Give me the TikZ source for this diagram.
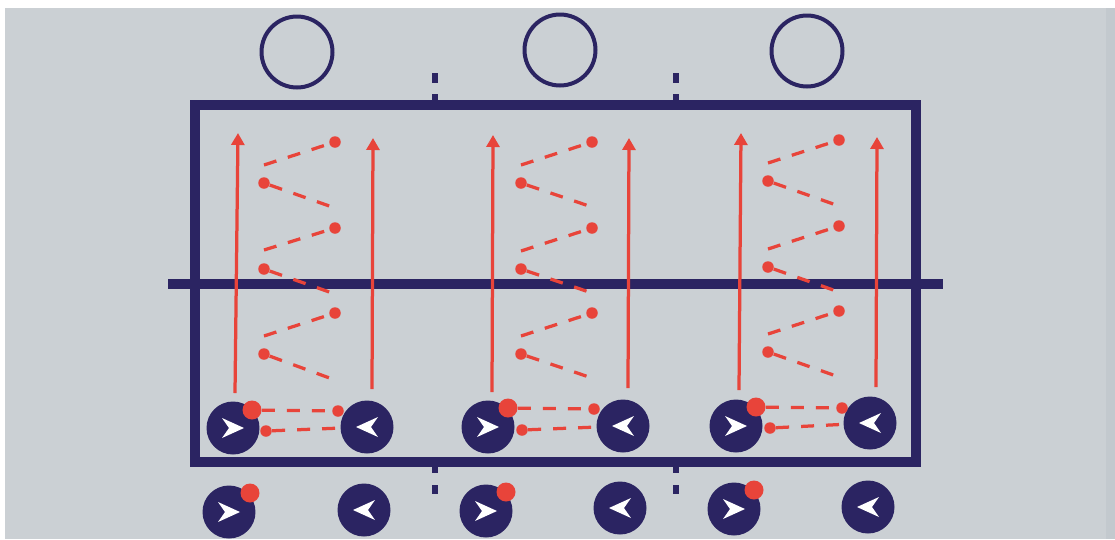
\documentclass[tikz,border=0pt]{standalone}
\usetikzlibrary{arrows.meta}
\definecolor{bg}{HTML}{CBD0D4}
\definecolor{bgr}{HTML}{C3C9CE}
\definecolor{navy}{HTML}{2B2462}
\definecolor{rd}{HTML}{E8443A}
\tikzset{
  court/.style={draw=navy, line width=0.2cm},
  tick/.style={draw=navy, line width=0.12cm},
  ring/.style={circle, draw=navy, line width=0.08cm, minimum size=1.42cm, inner sep=0pt},
  player/.style={circle, fill=navy, minimum size=1.06cm, inner sep=0pt},
  ball/.style={circle, fill=rd, minimum size=0.38cm, inner sep=0pt},
  rdot/.style={circle, fill=rd, minimum size=0.23cm, inner sep=0pt},
  run/.style={draw=rd, line width=0.065cm, -{Triangle[width=0.26cm,length=0.24cm]}},
  pass/.style={draw=rd, line width=0.065cm, dash pattern=on 0.26cm off 0.24cm},
}
\newcommand{\playerR}[2]{\node[player] (#1) at (#2) {};
  \fill[white] (#1.center) ++(11,0) -- ++(-22,-10) -- ++(7,10) -- ++(-7,10) -- cycle;}
\newcommand{\playerL}[2]{\node[player] (#1) at (#2) {};
  \fill[white] (#1.center) ++(-11,0) -- ++(22,-10) -- ++(-7,10) -- ++(7,10) -- cycle;}
\begin{document}
\begin{tikzpicture}[x=0.02cm,y=-0.02cm]
\fill[white] (0,0) rectangle (1115,539);
\fill[bg] (5,8) rectangle (1106,539);
\fill[bgr] (1106,8) rectangle (1115,539);
\useasboundingbox (0,0) rectangle (1115,539);

% top rings
\node[ring] (c1) at (297,52) {};
\node[ring] (c2) at (560,50) {};
\node[ring] (c3) at (807,51) {};

% court
\draw[court] (195,105) rectangle (916,462);
\draw[court] (168,284) -- (943,284);
\foreach \x in {435,676}{
  \draw[tick] (\x,94) -- (\x,105);
  \draw[tick] (\x,73) -- (\x,83);
  \draw[tick] (\x,462) -- (\x,473);
  \draw[tick] (\x,485) -- (\x,494);
}

% ---------- group 1 ----------
\node[rdot] (g1r1) at (335,142) {};
\node[rdot] (g1l1) at (264,183) {};
\node[rdot] (g1r2) at (335,228) {};
\node[rdot] (g1l2) at (264,269) {};
\node[rdot] (g1r3) at (335,313) {};
\node[rdot] (g1l3) at (264,354) {};
\coordinate (g1a1) at (264,165);
\coordinate (g1b1) at (335,208);
\coordinate (g1a2) at (264,250);
\coordinate (g1b2) at (335,294);
\coordinate (g1a3) at (264,336);
\coordinate (g1b3) at (335,380);
\draw[pass] (g1a1) -- (g1r1);
\draw[pass] (g1l1) -- (g1b1);
\draw[pass] (g1a2) -- (g1r2);
\draw[pass] (g1l2) -- (g1b2);
\draw[pass] (g1a3) -- (g1r3);
\draw[pass] (g1l3) -- (g1b3);
\coordinate (g1s1) at (235,393);
\coordinate (g1t1) at (238,133);
\coordinate (g1s2) at (372,389);
\coordinate (g1t2) at (373,138);
\draw[run] (g1s1) -- (g1t1);
\draw[run] (g1s2) -- (g1t2);
\playerR{g1L}{233,428}
\playerL{g1R}{367,427}
\node[ball] (g1ball) at (252,410) {};
\node[rdot] (g1d1) at (338,411) {};
\node[rdot] (g1d2) at (266,431) {};
\draw[pass] (g1ball) -- (g1d1);
\draw[pass] (g1d2) -- (g1R);
\playerR{g1oL}{229,512}
\playerL{g1oR}{364,510}
\node[ball] (g1oball) at (250,493) {};

% ---------- group 2 ----------
\node[rdot] (g2r1) at (592,142) {};
\node[rdot] (g2l1) at (521,183) {};
\node[rdot] (g2r2) at (592,228) {};
\node[rdot] (g2l2) at (521,269) {};
\node[rdot] (g2r3) at (592,313) {};
\node[rdot] (g2l3) at (521,354) {};
\coordinate (g2a1) at (521,165);
\coordinate (g2b1) at (592,207);
\coordinate (g2a2) at (521,251);
\coordinate (g2b2) at (592,293);
\coordinate (g2a3) at (521,336);
\coordinate (g2b3) at (592,378);
\draw[pass] (g2a1) -- (g2r1);
\draw[pass] (g2l1) -- (g2b1);
\draw[pass] (g2a2) -- (g2r2);
\draw[pass] (g2l2) -- (g2b2);
\draw[pass] (g2a3) -- (g2r3);
\draw[pass] (g2l3) -- (g2b3);
\coordinate (g2s1) at (492,392);
\coordinate (g2t1) at (493,135);
\coordinate (g2s2) at (628,388);
\coordinate (g2t2) at (629,138);
\draw[run] (g2s1) -- (g2t1);
\draw[run] (g2s2) -- (g2t2);
\playerR{g2L}{488,427}
\playerL{g2R}{623,426}
\node[ball] (g2ball) at (508,408) {};
\node[rdot] (g2d1) at (594,409) {};
\node[rdot] (g2d2) at (522,430) {};
\draw[pass] (g2ball) -- (g2d1);
\draw[pass] (g2d2) -- (g2R);
\playerR{g2oL}{486,511}
\playerL{g2oR}{620,508}
\node[ball] (g2oball) at (506,492) {};

% ---------- group 3 ----------
\node[rdot] (g3r1) at (839,140) {};
\node[rdot] (g3l1) at (768,181) {};
\node[rdot] (g3r2) at (839,226) {};
\node[rdot] (g3l2) at (768,267) {};
\node[rdot] (g3r3) at (839,311) {};
\node[rdot] (g3l3) at (768,352) {};
\coordinate (g3a1) at (768,163);
\coordinate (g3b1) at (839,206);
\coordinate (g3a2) at (768,249);
\coordinate (g3b2) at (839,292);
\coordinate (g3a3) at (768,334);
\coordinate (g3b3) at (839,377);
\draw[pass] (g3a1) -- (g3r1);
\draw[pass] (g3l1) -- (g3b1);
\draw[pass] (g3a2) -- (g3r2);
\draw[pass] (g3l2) -- (g3b2);
\draw[pass] (g3a3) -- (g3r3);
\draw[pass] (g3l3) -- (g3b3);
\coordinate (g3s1) at (739,390);
\coordinate (g3t1) at (741,133);
\coordinate (g3s2) at (876,387);
\coordinate (g3t2) at (877,137);
\draw[run] (g3s1) -- (g3t1);
\draw[run] (g3s2) -- (g3t2);
\playerR{g3L}{736,426}
\playerL{g3R}{870,423}
\node[ball] (g3ball) at (756,407) {};
\node[rdot] (g3d1) at (842,408) {};
\node[rdot] (g3d2) at (770,428) {};
\draw[pass] (g3ball) -- (g3d1);
\draw[pass] (g3d2) -- (g3R);
\playerR{g3oL}{734,509}
\playerL{g3oR}{868,507}
\node[ball] (g3oball) at (754,490) {};
\end{tikzpicture}
\end{document}
